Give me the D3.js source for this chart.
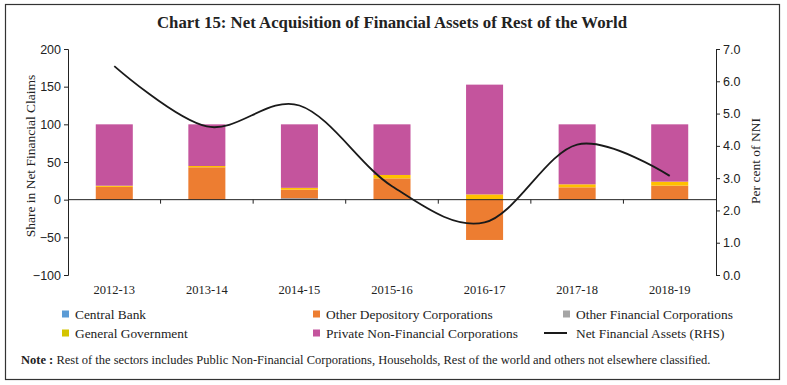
<!DOCTYPE html>
<html>
<head>
<meta charset="utf-8">
<script src="https://cdn.jsdelivr.net/npm/d3@7"></script>
<style>
  body { margin: 0; background: #fff; }
  svg text { font-family: "Liberation Serif", serif; fill: #222; }
</style>
</head>
<body>
<div id="chart"></div>
<script>
// chart values
const years = ["2012-13", "2013-14", "2014-15", "2015-16", "2016-17", "2017-18", "2018-19"];
const centralBank = [0, 0, 1.7, 0, 0, 0, 0];
const otherDepository = [17, 43, 11.5, 28.3, -53.5, 16.4, 18.6];
const otherFinancial = [0, 0, 0, 0, 0, 0, 0];
const generalGovernment = [1.5, 1.7, 2.5, 4.5, 7, 4, 5.3];
const privateNonFinancial = [81.5, 55.3, 84.3, 67.2, 145.7, 79.6, 76.1];
const netFinancialAssets = [6.47, 4.6, 5.25, 2.75, 1.63, 4.04, 3.07];

const leftTicks = [-100, -50, 0, 50, 100, 150, 200];
const rightTicks = [0, 1, 2, 3, 4, 5, 6, 7];

const series = [
  {key: "cb", name: "Central Bank", color: "#4A8FD4", values: centralBank},
  {key: "odc", name: "Other Depository Corporations", color: "#ED7D31", values: otherDepository},
  {key: "ofc", name: "Other Financial Corporations", color: "#A5A5A5", values: otherFinancial},
  {key: "gg", name: "General Government", color: "#FFC000", values: generalGovernment},
  {key: "pnfc", name: "Private Non-Financial Corporations", color: "#C4549D", values: privateNonFinancial}
];
const legendSwatch = {cb: "#5B9BD5", odc: "#ED7D31", ofc: "#A5A5A5", gg: "#D4C400", pnfc: "#C4549D"};

const width = 787, height = 385;
const m = {left: 68, right: 716, top: 49, bottom: 275};

const table = years.map((y, i) => {
  const row = {year: y};
  series.forEach(s => row[s.key] = s.values[i]);
  return row;
});

const stacked = d3.stack()
  .keys(series.map(s => s.key))
  .offset(d3.stackOffsetDiverging)(table);

const svg = d3.select("#chart").append("svg")
  .attr("width", width)
  .attr("height", height);

svg.append("rect")
  .attr("x", 5.5).attr("y", 4.5)
  .attr("width", 774).attr("height", 375)
  .attr("fill", "none").attr("stroke", "#333").attr("stroke-width", 1.2);

svg.append("text")
  .attr("x", 392).attr("y", 28)
  .attr("text-anchor", "middle")
  .style("font-size", "16.8px").style("font-weight", "bold")
  .text("Chart 15: Net Acquisition of Financial Assets of Rest of the World");

const x = d3.scaleBand().domain(years).range([m.left, m.right]).paddingInner(0.6).paddingOuter(0.3);
const xBand = d3.scaleBand().domain(years).range([m.left, m.right]);
const y = d3.scaleLinear().domain([-100, 200]).range([m.bottom, m.top]);
const y2 = d3.scaleLinear().domain([0, 7]).range([m.bottom, m.top]);

// bars
svg.append("g").selectAll("g")
  .data(stacked)
  .join("g")
  .attr("fill", (d, i) => series[i].color)
  .selectAll("rect")
  .data(d => d)
  .join("rect")
  .attr("x", d => x(d.data.year))
  .attr("width", x.bandwidth())
  .attr("y", d => y(Math.max(d[0], d[1])))
  .attr("height", d => Math.abs(y(d[0]) - y(d[1])));

// left axis
const gl = svg.append("g")
  .attr("transform", `translate(${m.left},0)`)
  .call(d3.axisLeft(y).tickValues(leftTicks).tickSize(4).tickPadding(3));
gl.selectAll("text").style("font-size", "12.5px").style("font-family", "Liberation Sans, sans-serif");

// right axis
const gr = svg.append("g")
  .attr("transform", `translate(${m.right},0)`)
  .call(d3.axisRight(y2).tickValues(rightTicks).tickFormat(d3.format(".1f")).tickSize(4).tickPadding(3));
gr.selectAll("text").style("font-size", "12.5px").style("font-family", "Liberation Sans, sans-serif");

[gl, gr].forEach(g => {
  g.select(".domain").attr("stroke", "#222");
  g.selectAll(".tick line").attr("stroke", "#222");
});

// x axis at zero
svg.append("line")
  .attr("x1", m.left).attr("x2", m.right)
  .attr("y1", y(0)).attr("y2", y(0))
  .attr("stroke", "#222");
svg.append("g").selectAll("line")
  .data(years.slice(1))
  .join("line")
  .attr("x1", d => xBand(d)).attr("x2", d => xBand(d))
  .attr("y1", y(0)).attr("y2", y(0) + 4)
  .attr("stroke", "#222");
svg.append("g").selectAll("text")
  .data(years)
  .join("text")
  .attr("x", d => xBand(d) + xBand.bandwidth() / 2)
  .attr("y", 294)
  .attr("text-anchor", "middle")
  .style("font-size", "12.5px")
  .text(d => d);

// line
const line = d3.line()
  .x((d, i) => xBand(years[i]) + xBand.bandwidth() / 2)
  .y(d => y2(d))
  .curve(d3.curveCardinal.tension(0));
svg.append("path")
  .datum(netFinancialAssets)
  .attr("d", line)
  .attr("fill", "none")
  .attr("stroke", "#1a1a1a")
  .attr("stroke-width", 1.8);

// axis titles
svg.append("text")
  .attr("transform", "translate(35,156) rotate(-90)")
  .attr("text-anchor", "middle")
  .style("font-size", "13.5px")
  .text("Share in Net Financial Claims");
svg.append("text")
  .attr("transform", "translate(760,161) rotate(-90)")
  .attr("text-anchor", "middle")
  .style("font-size", "13.5px")
  .text("Per cent of NNI");

// legend
const legendItems = [
  {key: "cb", col: 0, row: 0},
  {key: "odc", col: 1, row: 0},
  {key: "ofc", col: 2, row: 0},
  {key: "gg", col: 0, row: 1},
  {key: "pnfc", col: 1, row: 1},
  {key: "line", col: 2, row: 1}
];
const colX = [62, 313, 563];
const rowY = [314, 333];
const lg = svg.append("g");
legendItems.forEach(it => {
  const lx = colX[it.col], ly = rowY[it.row];
  const s = series.find(s => s.key === it.key);
  if (it.key === "line") {
    lg.append("line")
      .attr("x1", lx - 19).attr("x2", lx + 4)
      .attr("y1", ly).attr("y2", ly)
      .attr("stroke", "#1a1a1a").attr("stroke-width", 2);
  } else {
    lg.append("rect")
      .attr("x", lx).attr("y", ly - 3.5)
      .attr("width", 7).attr("height", 7)
      .attr("fill", legendSwatch[it.key]);
  }
  lg.append("text")
    .attr("x", lx + 13).attr("y", ly + 4.5)
    .style("font-size", "13.4px")
    .text(s ? s.name : "Net Financial Assets (RHS)");
});

// note
const note = svg.append("text")
  .attr("x", 21).attr("y", 364)
  .style("font-size", "12.5px");
note.append("tspan").style("font-weight", "bold").text("Note : ");
note.append("tspan").text("Rest of the sectors includes Public Non-Financial Corporations, Households, Rest of the world and others not elsewhere classified.");
</script>
</body>
</html>
